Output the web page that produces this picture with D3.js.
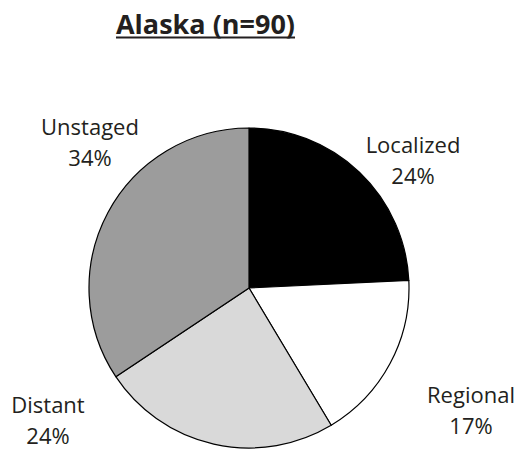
<!DOCTYPE html>
<html>
<head>
<meta charset="utf-8">
<script src="https://cdn.jsdelivr.net/npm/d3@7"></script>
<style>
  html, body { margin: 0; padding: 0; background: #fff; }
  svg { display: block; }
</style>
</head>
<body>
<script>
const title = "Alaska (n=90)";
const categories = ["Localized", "Regional", "Distant", "Unstaged"];
const percents = [24, 17, 24, 34];
const colors = ["#000000", "#ffffff", "#d9d9d9", "#9c9c9c"];
// label anchor positions (center x, baseline y of first line)
const labelX = [413, 471, 48, 90];
const labelY = [153, 403, 413, 135];

const W = 520, H = 449;
const cx = 249, cy = 288, R = 160;

const svg = d3.select("body").append("svg").attr("width", W).attr("height", H);

const t = svg.append("text")
  .attr("x", 205.5).attr("y", 34)
  .attr("text-anchor", "middle")
  .attr("font-family", "Open Sans, sans-serif")
  .attr("font-weight", "bold")
  .attr("font-size", 27)
  .attr("fill", "#231f20")
  .text(title);
const bb = t.node().getBBox();
svg.append("line")
  .attr("x1", bb.x).attr("x2", bb.x + bb.width)
  .attr("y1", 37.5).attr("y2", 37.5)
  .attr("stroke", "#231f20").attr("stroke-width", 2);

const data = categories.map((c, i) => ({ name: c, value: percents[i], color: colors[i] }));
const pie = d3.pie().sort(null).value(d => d.value);
const arc = d3.arc().innerRadius(0).outerRadius(R);

const g = svg.append("g").attr("transform", `translate(${cx},${cy})`);
g.selectAll("path").data(pie(data)).join("path")
  .attr("d", arc)
  .attr("fill", d => d.data.color)
  .attr("stroke", "#000")
  .attr("stroke-width", 1.2)
  .attr("stroke-linejoin", "round");

const lbl = svg.append("g")
  .attr("font-family", "Open Sans, sans-serif")
  .attr("font-size", 22)
  .attr("fill", "#231f20")
  .attr("text-anchor", "middle");
data.forEach((d, i) => {
  const tx = lbl.append("text").attr("x", labelX[i]).attr("y", labelY[i]);
  tx.append("tspan").attr("x", labelX[i]).text(d.name);
  tx.append("tspan").attr("x", labelX[i]).attr("dy", 31).text(d.value + "%");
});
</script>
</body>
</html>
